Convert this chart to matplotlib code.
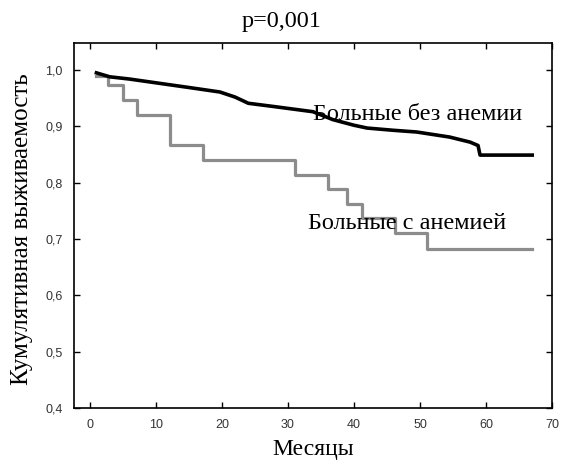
import matplotlib.pyplot as plt
from matplotlib.ticker import FuncFormatter

# Больные без анемии (месяцы, кумулятивная выживаемость)
t_no = [1, 3, 6, 9, 12, 15, 19.7, 22, 24, 28, 33.8, 36.8, 40, 42, 46, 49.5, 54.5, 57.6, 58.8, 59.1, 67]
s_no = [0.995, 0.988, 0.984, 0.979, 0.974, 0.969, 0.961, 0.952, 0.941, 0.935, 0.926, 0.912, 0.902, 0.897, 0.893, 0.890, 0.881, 0.872, 0.866, 0.849, 0.849]

# Больные с анемией (ступенчатая кривая)
t_an = [1, 2.8, 5, 7.2, 12.1, 17.2, 31.1, 36.0, 39.0, 41.2, 46.2, 51, 67]
s_an = [0.99, 0.973, 0.947, 0.92, 0.867, 0.841, 0.814, 0.788, 0.762, 0.737, 0.711, 0.683, 0.683]

xticks = [0, 10, 20, 30, 40, 50, 60, 70]
yticks = [0.4, 0.5, 0.6, 0.7, 0.8, 0.9, 1.0]

serif = 'Liberation Serif'
W, H = 561, 461

fig = plt.figure(figsize=(W / 100, H / 100), dpi=100)
ax = fig.add_axes([74 / W, 1 - 408 / H, (552 - 74) / W, (408 - 43) / H])

ax.step(t_an, s_an, where='post', color='#8c8c8c', lw=2.3)
ax.plot(t_no, s_no, color='black', lw=2.6)

ax.text(33.8, 0.911, 'Больные без анемии', family=serif, fontsize=17.5, va='baseline')
ax.text(33.0, 0.717, 'Больные с анемией', family=serif, fontsize=17.5, va='baseline')

ax.set_xlim(-2.4, 70)
ax.set_ylim(0.4, 1.048)
ax.set_xticks(xticks)
ax.set_yticks(yticks)
ax.yaxis.set_major_formatter(FuncFormatter(lambda v, p: f'{v:.1f}'.replace('.', ',')))
ax.tick_params(direction='in', top=True, right=True, length=4, width=1,
               labelsize=9, labelcolor='#333333', pad=8)
for lab in ax.get_xticklabels() + ax.get_yticklabels():
    lab.set_family('Liberation Sans')
for s in ax.spines.values():
    s.set_linewidth(1.2)

fig.text(282 / W, 1 - 27 / H, 'p=0,001', family=serif, fontsize=17.5,
         ha='center', va='baseline')
ax.set_xlabel('Месяцы', family=serif, fontsize=17, va='baseline')
ax.set_ylabel('Кумулятивная выживаемость', family=serif, fontsize=18)
ax.xaxis.set_label_coords(0.5, -(455 - 408) / 365)
ax.yaxis.set_label_coords((33 - 74) / 478, 0.5 - (229 - 225.5) / 365)

fig.savefig('out.png', dpi=100)
